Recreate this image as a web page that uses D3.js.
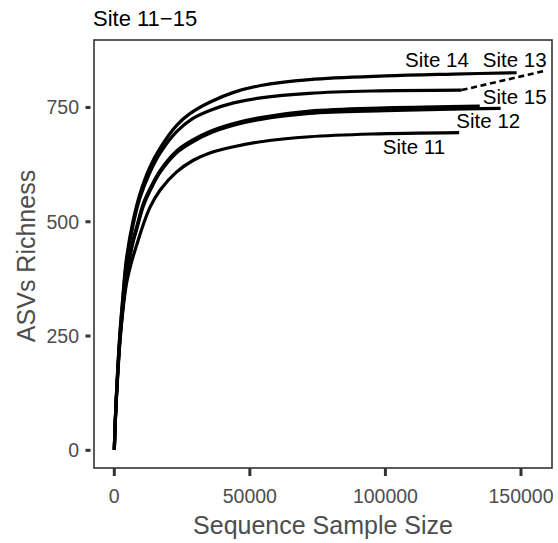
<!DOCTYPE html>
<html><head><meta charset="utf-8">
<script src="https://cdn.jsdelivr.net/npm/d3@7"></script>
<style>body{margin:0;background:#fff;} svg{display:block;font-family:"Liberation Sans",Arial,sans-serif;}</style>
</head><body><svg id="c" width="558" height="543"></svg>
<script>
const title = "Site 11\u221215";
const xTicks = [0, 50000, 100000, 150000];
const yTicks = [0, 250, 500, 750];
const xLabel = "Sequence Sample Size";
const yLabel = "ASVs Richness";

const site11 = [[1,1],[300,53],[700,104],[1200,157],[2000,230],[3000,296],[4500,365],[6500,415],[8300,450],[10700,494],[13200,532],[17000,570],[23000,609],[29000,634],[35000,650],[44000,664],[54000,675],[72000,686],[95000,692],[127200,695]];
const site12 = [[1,1],[300,54],[700,106],[1200,161],[2000,236],[3000,302],[4500,381],[7000,457],[8300,484],[10700,534],[13200,568],[17000,609],[23000,651],[29000,675],[35000,693],[44000,711],[54000,724],[72000,737],[100000,743],[120000,746],[142500,748]];
const site13 = [[1,1],[300,56],[700,111],[1200,168],[2000,247],[3000,320],[4500,412],[7000,495],[9500,553],[13000,606],[17000,651],[23000,697],[29000,726],[35000,743],[44000,760],[54000,771],[72000,781],[95000,786],[128100,788]];
const site13ext = [[128100,788],[159400,831]];
const site14 = [[1,1],[300,56],[700,112],[1200,170],[2000,250],[3000,325],[4500,420],[7000,504],[9500,562],[13000,618],[17000,662],[23000,711],[28000,737],[35000,761],[44000,783],[54000,798],[72000,811],[100000,819],[125000,823],[148400,826]];
const site15 = [[1,1],[300,54],[700,107],[1200,163],[2000,238],[3000,305],[4500,385],[7000,462],[8300,490],[10700,540],[13200,573],[17000,613],[23000,655],[29000,679],[35000,697],[44000,715],[54000,728],[72000,742],[100000,749],[134800,753]];
const siteNames = ["Site 11","Site 12","Site 13","Site 14","Site 15"];
const labelPos = [[110540,649],[137940,706],[147680,838],[119020,838],[147680,757]];

const svg = d3.select("#c");
const L=94, R=552, T=40, B=468;
const x = d3.scaleLinear().domain([-7487,161440]).range([L,R]);
const y = d3.scaleLinear().domain([-38.7,897.6]).range([B,T]);

svg.append("text").attr("x",93).attr("y",26).attr("font-size",22).attr("fill","#000").text(title);

const line = d3.line().x(d=>x(d[0])).y(d=>y(d[1])).curve(d3.curveCatmullRom.alpha(0.5));
const g = svg.append("g");
[site11,site12,site13,site14,site15].forEach(s=>{
  g.append("path").attr("d",line(s)).attr("fill","none").attr("stroke","#000").attr("stroke-width",3.2).attr("stroke-linecap","butt");
});
g.append("path").attr("d",line(site13ext)).attr("fill","none").attr("stroke","#000").attr("stroke-width",2.6).attr("stroke-dasharray","6,3.7");

siteNames.forEach((n,i)=>{
  svg.append("text").attr("x",x(labelPos[i][0])).attr("y",y(labelPos[i][1])).attr("text-anchor","middle")
    .attr("font-size",20.5).attr("fill","#000").text(n);
});

svg.append("rect").attr("x",L).attr("y",T).attr("width",R-L).attr("height",B-T).attr("fill","none").attr("stroke","#333").attr("stroke-width",1.6);

yTicks.forEach(t=>{
  svg.append("line").attr("x1",85.5).attr("x2",90.5).attr("y1",y(t)).attr("y2",y(t)).attr("stroke","#333").attr("stroke-width",3);
  svg.append("text").attr("x",79).attr("y",y(t)).attr("dy","0.36em").attr("text-anchor","end").attr("font-size",19.5).attr("fill","#4d4d4d").text(t);
});
xTicks.forEach(t=>{
  svg.append("line").attr("x1",x(t)).attr("x2",x(t)).attr("y1",B).attr("y2",B+8).attr("stroke","#333").attr("stroke-width",3);
  svg.append("text").attr("x",x(t)).attr("y",503).attr("text-anchor","middle").attr("font-size",19.5).attr("fill","#4d4d4d").text(t);
});
svg.append("text").attr("x",(L+R)/2).attr("y",534).attr("text-anchor","middle").attr("font-size",25).attr("fill","#4d4d4d").text(xLabel);
svg.append("text").attr("transform",`translate(35,256) rotate(-90)`).attr("text-anchor","middle").attr("font-size",25).attr("fill","#4d4d4d").text(yLabel);
</script></body></html>
